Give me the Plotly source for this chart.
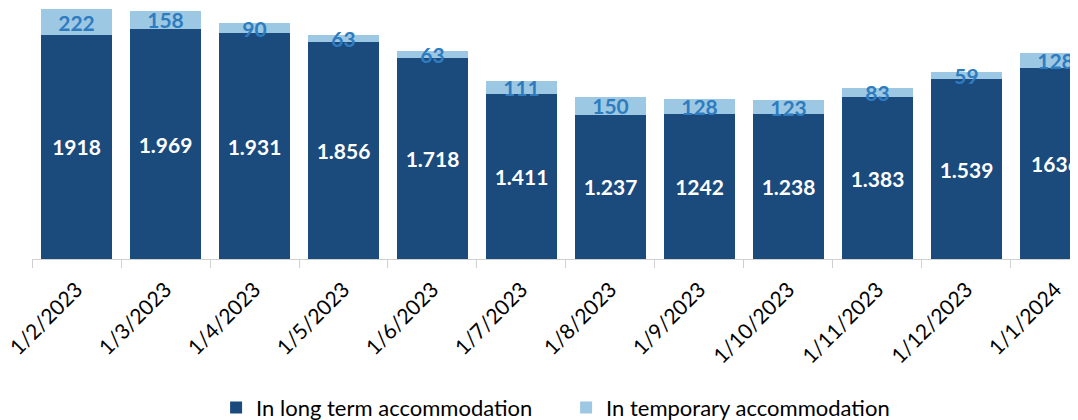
import plotly.graph_objects as go

categories = ["1/2/2023", "1/3/2023", "1/4/2023", "1/5/2023", "1/6/2023", "1/7/2023",
              "1/8/2023", "1/9/2023", "1/10/2023", "1/11/2023", "1/12/2023", "1/1/2024"]
long_term = [1918, 1969, 1931, 1856, 1718, 1411, 1237, 1242, 1238, 1383, 1539, 1636]
long_term_labels = ["1918", "1.969", "1.931", "1.856", "1.718", "1.411",
                    "1.237", "1242", "1.238", "1.383", "1.539", "1636"]
temporary = [222, 158, 90, 63, 63, 111, 150, 128, 123, 83, 59, 128]
temporary_labels = [str(v) for v in temporary]

FONT = "Lato"
DARK = "#1B4A7D"
LIGHT = "#9DC8E3"
LIGHT_TEXT = "#2E7CC0"

fig = go.Figure()
fig.add_trace(go.Bar(
    x=categories, y=long_term, name="In long term accommodation",
    marker=dict(color=DARK, line=dict(width=0)),
    text=long_term_labels, textposition="inside", insidetextanchor="middle",
    constraintext="none", cliponaxis=False, textangle=0,
    textfont=dict(family=FONT, size=21, color="white", weight="bold"),
    hoverinfo="skip",
))
fig.add_trace(go.Bar(
    x=categories, y=temporary, name="In temporary accommodation",
    marker=dict(color=LIGHT, line=dict(width=0)),
    text=temporary_labels, textposition="inside", insidetextanchor="middle",
    constraintext="none", cliponaxis=False, textangle=0,
    textfont=dict(family=FONT, size=21, color=LIGHT_TEXT, weight="bold"),
    hoverinfo="skip",
))

fig.update_layout(
    width=1070, height=412,
    barmode="stack", bargap=0.2,
    margin=dict(l=24, r=0, t=0, b=161, autoexpand=False),
    paper_bgcolor="white", plot_bgcolor="white",
    font=dict(family=FONT, color="black"),
    showlegend=True,
    legend=dict(orientation="h", x=0.176, xanchor="left",
                yref="container", y=0.03, yanchor="middle",
                font=dict(family=FONT, size=22, color="black"),
                itemwidth=30, entrywidth=305, entrywidthmode="pixels",
                tracegroupgap=0, traceorder="normal"),
)
fig.update_xaxes(
    type="category", range=[-0.5, 11.253], automargin=False,
    showline=True, linecolor="#D0D0D0", linewidth=1,
    ticks="outside", tickson="boundaries", ticklen=8, tickcolor="#D0D0D0",
    tickangle=-45, ticklabelstandoff=9,
    tickfont=dict(family=FONT, size=21, color="black"),
    showgrid=False, zeroline=False,
)
fig.update_yaxes(visible=False, range=[0, 2149], showgrid=False, zeroline=False)

fig.write_html("out.html")
